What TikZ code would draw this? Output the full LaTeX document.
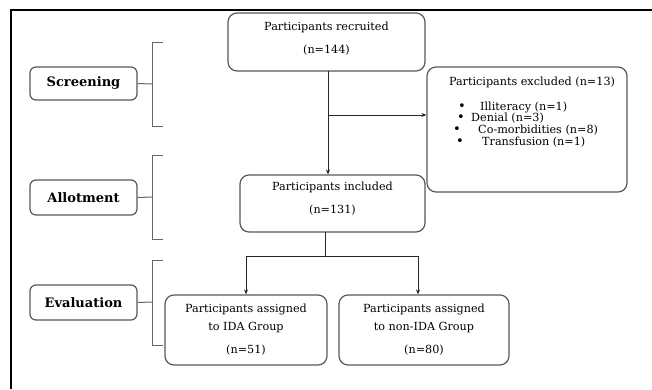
\documentclass[tikz,border=0pt]{standalone}
\usepackage{fontspec}
\setmainfont{DejaVu Serif}
\usetikzlibrary{arrows.meta}
\begin{document}
\begin{tikzpicture}[x=1pt,y=-1pt,
  box/.style={draw=black!65,line width=1.2pt,rounded corners=9pt,align=center,inner sep=0pt},
  stagebox/.style={draw=black!65,line width=1.2pt,rounded corners=6pt,minimum width=107pt,inner sep=0pt,font=\fontsize{13}{15}\selectfont\bfseries},
  brk/.style={draw=black!60,line width=1pt},
  arr/.style={draw=black!85,line width=1pt,-{Stealth[length=5pt,width=4pt]}},
  ln/.style={draw=black!85,line width=1pt},
  txt/.style={inner sep=0pt,font=\fontsize{11.2}{13}\selectfont},
  bul/.style={inner sep=0pt,font=\fontsize{13}{13}\selectfont}]
\useasboundingbox (0,0) rectangle (652,389);
\fill[white] (0,0) rectangle (652,389);
% frame
\draw[line width=2pt] (11,389) -- (11,10) -- (652,10);
% stage boxes
\node[stagebox,minimum height=33pt] (screen) at (83.5,83.5) {Screening};
\node[stagebox,minimum height=35pt] (allot) at (83.5,197.5) {Allotment};
\node[stagebox,minimum height=35pt] (eval) at (83.5,302.5) {Evaluation};
% brackets
\coordinate (b1) at (152,84);
\coordinate (b2) at (152,197);
\coordinate (b3) at (152,302);
\draw[brk] (163,42) -- (152,42) -- (152,126) -- (163,126);
\draw[brk] (163,155) -- (152,155) -- (152,239) -- (163,239);
\draw[brk] (163,260) -- (152,260) -- (152,345) -- (163,345);
\draw[brk] (screen.east) -- (b1);
\draw[brk] (allot.east) -- (b2);
\draw[brk] (eval.east) -- (b3);
% flow boxes
\node[box,minimum width=197pt,minimum height=58pt] (recr) at (326.5,42) {};
\node[txt] (recrA) at (326.5,27) {Participants recruited};
\node[txt] (recrB) at (326.5,50) {(n=144)};
\node[box,minimum width=200pt,minimum height=125pt] (excl) at (527,129.5) {};
\node[txt] (exclA) at (532,82) {Participants excluded (n=13)};
\node[bul] (e1b) at (462,107) {•};
\node[txt,anchor=west] (e1) at (480,107) {Illiteracy (n=1)};
\node[bul] (e2b) at (461,118.5) {•};
\node[txt,anchor=west] (e2) at (471,118.5) {Denial (n=3)};
\node[bul] (e3b) at (457,130) {•};
\node[txt,anchor=west] (e3) at (478,130) {Co-morbidities (n=8)};
\node[bul] (e4b) at (460,142) {•};
\node[txt,anchor=west] (e4) at (482,142) {Transfusion (n=1)};
\node[box,minimum width=185pt,minimum height=57pt] (incl) at (332.5,203.5) {};
\node[txt] (inclA) at (332.5,187) {Participants included};
\node[txt] (inclB) at (332.5,210) {(n=131)};
\node[box,minimum width=162pt,minimum height=70pt] (ida) at (246,330) {};
\node[txt] (idaA) at (246,309) {Participants assigned};
\node[txt] (idaB) at (246,327) {to IDA Group};
\node[txt] (idaC) at (246,350) {(n=51)};
\node[box,minimum width=170pt,minimum height=70pt] (non) at (424,330) {};
\node[txt] (nonA) at (424,309) {Participants assigned};
\node[txt] (nonB) at (424,327) {to non-IDA Group};
\node[txt] (nonC) at (424,350) {(n=80)};
% connectors
\coordinate (top) at (328,71);
\coordinate (br) at (328,115);
\draw[arr] (top) -- (top |- incl.north);
\draw[arr] (br) -- (br -| excl.west);
\coordinate (s0) at (325,232);
\coordinate (s1) at (325,256);
\coordinate (sl) at (246,256);
\coordinate (sr) at (418,256);
\draw[ln] (s0) -- (s1);
\draw[ln] (sl) -- (sr);
\draw[arr] (sl) -- (sl |- ida.north);
\draw[arr] (sr) -- (sr |- non.north);
\end{tikzpicture}
\end{document}
